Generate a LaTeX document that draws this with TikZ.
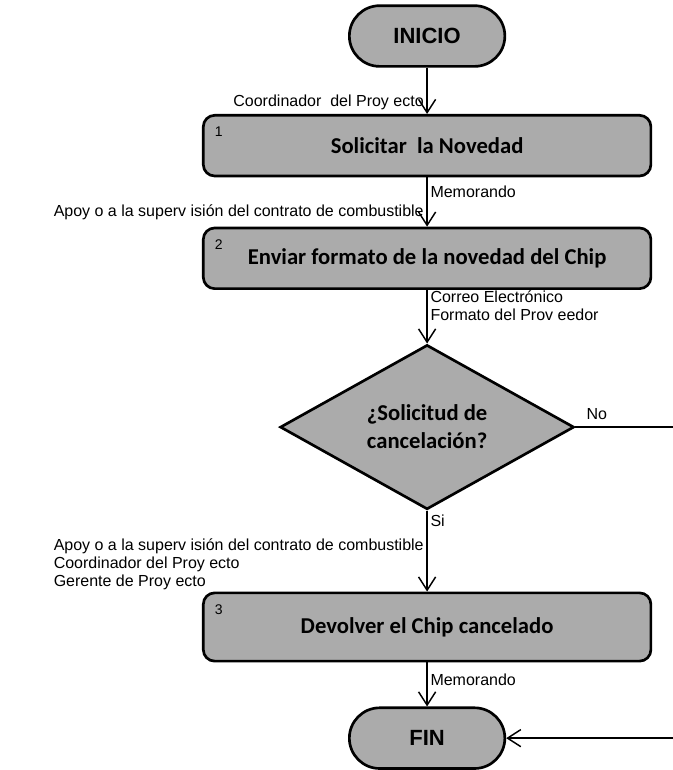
\documentclass[tikz,border=0pt]{standalone}
\usepackage{fontspec}
\setmainfont{Liberation Sans}
\newfontfamily\calibri{Carlito}
\usetikzlibrary{shapes.geometric, arrows.meta}
\tikzstyle{terminal} = [rectangle, rounded corners=0.8cm, minimum width=4.1cm, minimum height=1.6cm, text centered, draw=black, line width=2pt, fill=black!33, font=\fontsize{16.5}{19}\selectfont\bfseries]
\tikzstyle{proceso} = [rectangle, rounded corners=0.3cm, minimum width=11.8cm, minimum height=1.6cm, text centered, draw=black, line width=2pt, fill=black!33, font=\calibri\fontsize{17}{20}\selectfont\bfseries]
\tikzstyle{decis} = [diamond, minimum width=7.75cm, minimum height=3.7cm, inner sep=0pt, align=center, draw=black, line width=2pt, fill=black!33, font=\calibri\fontsize{17}{21}\selectfont\bfseries]
\tikzstyle{numero} = [anchor=north west, xshift=0.3cm, yshift=-0.3cm, draw=none, fill=none, inner sep=1pt, font=\fontsize{10.5}{11}\selectfont\mdseries]
\tikzstyle{arrow} = [line width=1.1pt,->,>={Straight Barb[length=3.5mm,width=4.5mm]}]
\tikzstyle{etiqueta} = [font=\fontsize{12}{13.5}\selectfont, align=left, inner sep=2pt]

\begin{document}
\begin{tikzpicture}[node distance=2.89cm]
	\useasboundingbox (-11.26,0.95) rectangle (6.48,-19.35);
	\node (inicio) [terminal] {INICIO};
	\node (paso1) [proceso, below of=inicio, label={[numero]north west:1}] {Solicitar\ \ la Novedad};
	\node (paso2) [proceso, node distance=2.97cm, below of=paso1, label={[numero]north west:2}] {Enviar formato de la novedad del Chip};
	\node (cancelar) [decis, node distance=4.45cm, below of=paso2] {¿Solicitud de\\cancelación?};
	\node (paso3) [proceso, minimum height=1.8cm, node distance=5.27cm, below of=cancelar, label={[numero]north west:3}] {Devolver el Chip cancelado};
	\node (fin) [terminal, node distance=2.93cm, below of=paso3] {FIN};
	\coordinate (borde) at (6.48,0);
	\coordinate (salidaNo) at (cancelar.east -| borde);
	\coordinate (llegadaFin) at (fin.east -| borde);
	\draw [arrow] (inicio) -- node[etiqueta, pos=0.75, anchor=east] {Coordinador\ \ del Proy ecto} (paso1);
	\draw [arrow] (paso1) -- node[etiqueta, pos=0.29, anchor=west] {Memorando} node[etiqueta, pos=0.71, anchor=east] {Apoy o a la superv isión del contrato de combustible} (paso2);
	\draw [arrow] (paso2) -- node[etiqueta, pos=0.3, anchor=west] {Correo Electrónico\\Formato del Prov eedor} (cancelar);
	\draw [arrow] (cancelar) -- node[etiqueta, pos=0.12, anchor=west] {Si} node[etiqueta, pos=0.66, anchor=east] {Apoy o a la superv isión del contrato de combustible\\Coordinador del Proy ecto\\Gerente de Proy ecto} (paso3);
	\draw [line width=1.1pt] (cancelar) -- node[etiqueta, pos=0.08, anchor=south west, yshift=3pt] {No} (salidaNo);
	\draw [arrow] (paso3) -- node[etiqueta, pos=0.4, anchor=west] {Memorando} (fin);
	\draw [arrow] (llegadaFin) -- (fin);
\end{tikzpicture}
\end{document}
